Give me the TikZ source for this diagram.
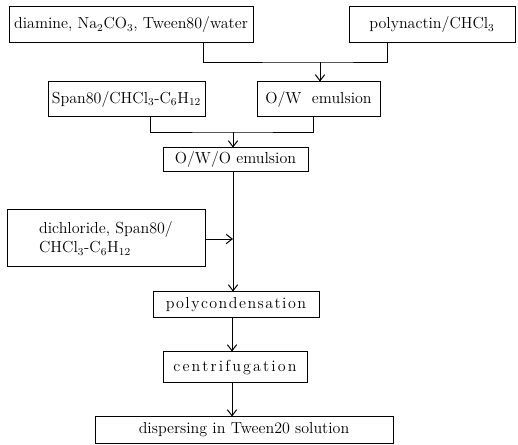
\documentclass[tikz,border=0pt]{standalone}
\usetikzlibrary{arrows.meta}
\def\spacedtext#1#2{\def\spacedk{#1}\spacedloop#2\relax\kern-#1}
\def\spacedloop#1{\ifx#1\relax\else#1\kern\spacedk\expandafter\spacedloop\fi}
\begin{document}
\begin{tikzpicture}[x=0.75pt,y=-0.75pt,
  box/.style={draw,line width=0.75pt,inner sep=0pt,font=\fontsize{12}{14}\selectfont},
  link/.style={line width=0.65pt},
  arr/.style={line width=0.65pt,-{Straight Barb[length=4.5pt,width=7pt,line width=0.75pt]}}]
\useasboundingbox (0,0) rectangle (518,445);
\node[box,minimum width=244*0.75pt,minimum height=36*0.75pt] (A) at (131,25) {diamine, Na$_2$CO$_3$, Tween80/water};
\node[box,minimum width=166*0.75pt,minimum height=36*0.75pt] (B) at (432,25) {polynactin/CHCl$_3$};
\node[box,minimum width=157*0.75pt,minimum height=35*0.75pt] (C) at (126.5,99.5) {Span80/CHCl$_3$-C$_6$H$_{12}$};
\node[box,minimum width=123*0.75pt,minimum height=35*0.75pt] (D) at (318.5,99.5) {O/W\ \ emulsion};
\node[box,minimum width=145*0.75pt,minimum height=24*0.75pt] (E) at (235.5,160) {O/W/O emulsion};
\node[box,minimum width=198*0.75pt,minimum height=57*0.75pt,align=left] (F) at (106,238.5) {dichloride, Span80/\\CHCl$_3$-C$_6$H$_{12}$};
\node[box,minimum width=166*0.75pt,minimum height=26*0.75pt] (G) at (236,305) {\spacedtext{1.1pt}{polycondensation}};
\node[box,minimum width=144*0.75pt,minimum height=31*0.75pt] (H) at (235,367.5) {\spacedtext{1.6pt}{centrifugation}};
\node[box,minimum width=298*0.75pt,minimum height=26*0.75pt] (I) at (244,430) {dispersing in Tween20 solution};
% junctions
\coordinate (j1) at (320,62);
\coordinate (j2) at (233,132);
\coordinate (a1) at (203,43);
\coordinate (b1) at (387,43);
\coordinate (c1) at (150,117);
\coordinate (d1) at (313,117);
\coordinate (m) at (233,239);
\coordinate (k) at (232,0);
\draw[link] (a1 |- A.south) |- (j1) -| (b1 |- B.south);
\draw[arr] (j1) -- (j1 |- D.north);
\draw[link] (c1 |- C.south) |- (j2) -| (d1 |- D.south);
\draw[arr] (j2) -- (j2 |- E.north);
\draw[arr] (j2 |- E.south) -- (j2 |- G.north);
\draw[arr] (F.east |- m) -- (m);
\draw[arr] (k |- G.south) -- (k |- H.north);
\draw[arr] (k |- H.south) -- (k |- I.north);
\end{tikzpicture}
\end{document}
